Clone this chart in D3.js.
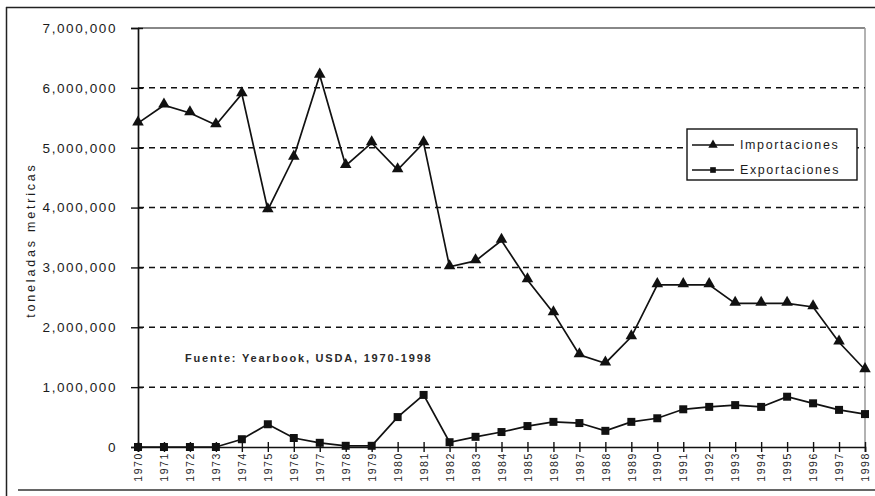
<!DOCTYPE html>
<html>
<head>
<meta charset="utf-8">
<script src="https://cdn.jsdelivr.net/npm/d3@7/dist/d3.min.js"></script>
<style>
  html, body { margin: 0; padding: 0; background: #fff; }
  svg { display: block; font-family: "Liberation Sans", Arial, sans-serif; }
</style>
</head>
<body>
<svg id="chart" width="875" height="496"></svg>
<script>
// Años de la serie
const years = d3.range(1970, 1999);

// Importaciones (toneladas métricas)
const importaciones = [
  5410000, 5710000, 5580000, 5380000, 5900000, 3960000, 4840000, 6210000,
  4700000, 5080000, 4630000, 5080000, 3010000, 3110000, 3450000, 2790000,
  2240000, 1540000, 1400000, 1840000, 2710000, 2710000, 2710000, 2400000,
  2400000, 2400000, 2340000, 1750000, 1290000
];

// Exportaciones (toneladas métricas)
const exportaciones = [
  0, 0, 0, 0, 130000, 380000, 150000, 70000,
  20000, 20000, 500000, 870000, 80000, 170000, 250000, 350000,
  420000, 400000, 270000, 420000, 480000, 630000, 670000, 700000,
  670000, 840000, 730000, 620000, 550000
];

const yTicks = [0, 1000000, 2000000, 3000000, 4000000, 5000000, 6000000, 7000000];
const seriesNames = ["Importaciones", "Exportaciones"];
const sourceText = "Fuente: Yearbook, USDA, 1970-1998";
const yTitle = "toneladas metricas";

const svg = d3.select("#chart");
const plotL = 138, plotR = 865, plotT = 28, plotB = 447;
const ink = "#1c1c1c";

const x = d3.scaleLinear().domain([1970, 1998]).range([plotL, plotR]);
const y = d3.scaleLinear().domain([0, 7000000]).range([plotB, plotT]);

// Marco exterior
svg.append("line").attr("x1", 6).attr("x2", 875).attr("y1", 7.5).attr("y2", 7.5)
  .attr("stroke", "#222").attr("stroke-width", 1.5);
svg.append("line").attr("x1", 6.5).attr("x2", 6.5).attr("y1", 7).attr("y2", 496)
  .attr("stroke", "#222").attr("stroke-width", 1.5);
svg.append("line").attr("x1", 18).attr("x2", 875).attr("y1", 490).attr("y2", 490)
  .attr("stroke", "#666").attr("stroke-width", 2);

// Borde del área de trazado (arriba y derecha)
svg.append("line").attr("x1", plotL).attr("x2", plotR).attr("y1", plotT).attr("y2", plotT)
  .attr("stroke", "#888").attr("stroke-width", 2);
svg.append("line").attr("x1", plotR).attr("x2", plotR).attr("y1", plotT).attr("y2", plotB)
  .attr("stroke", "#999").attr("stroke-width", 1.5);

// Líneas de cuadrícula discontinuas
svg.append("g").selectAll("line")
  .data(yTicks.filter(d => d > 0 && d < 7000000))
  .join("line")
  .attr("x1", plotL).attr("x2", plotR)
  .attr("y1", d => y(d)).attr("y2", d => y(d))
  .attr("stroke", "#111").attr("stroke-width", 1.5)
  .attr("stroke-dasharray", "6,5");

// Eje Y
const yAxis = svg.append("g")
  .attr("transform", `translate(${plotL},0)`)
  .call(d3.axisLeft(y).tickValues(yTicks).tickSize(7).tickPadding(14)
    .tickFormat(d3.format(",")));
yAxis.select(".domain").attr("stroke", "#111").attr("stroke-width", 1.7);
yAxis.selectAll(".tick line").attr("stroke", "#111").attr("stroke-width", 1.4)
  .attr("x2", -7).attr("x1", 5);
yAxis.selectAll(".tick text").attr("font-size", 13.5).attr("fill", ink)
  .attr("letter-spacing", 1.6)
  .attr("font-family", "'Liberation Sans', Arial, sans-serif");

// Eje X
const xAxis = svg.append("g")
  .attr("transform", `translate(0,${plotB})`)
  .call(d3.axisBottom(x).tickValues(years).tickSize(5).tickFormat(d3.format("d")));
xAxis.select(".domain").attr("stroke", "#111").attr("stroke-width", 1.7);
xAxis.selectAll(".tick line").attr("stroke", "#111").attr("stroke-width", 1.4)
  .attr("y1", -5).attr("y2", 5);
xAxis.selectAll(".tick text")
  .attr("font-size", 10.5).attr("fill", ink)
  .attr("letter-spacing", 1.6)
  .attr("font-family", "'Liberation Sans', Arial, sans-serif")
  .attr("transform", "rotate(-90)")
  .attr("text-anchor", "end")
  .attr("dy", "0.35em")
  .attr("x", -5).attr("y", 0);

// Título del eje Y
svg.append("text")
  .attr("transform", `translate(35,240) rotate(-90)`)
  .attr("text-anchor", "middle")
  .attr("font-size", 12.5).attr("fill", ink)
  .attr("letter-spacing", 2.8)
  .text(yTitle);

// Series
const line = d3.line().x((d, i) => x(years[i])).y(d => y(d));

svg.append("path").datum(importaciones)
  .attr("d", line).attr("fill", "none").attr("stroke", "#111").attr("stroke-width", 1.7);
svg.append("path").datum(exportaciones)
  .attr("d", line).attr("fill", "none").attr("stroke", "#111").attr("stroke-width", 1.7);

const tri = d3.symbol().type(d3.symbolTriangle).size(58);
const sq = d3.symbol().type(d3.symbolSquare).size(64);

svg.append("g").selectAll("path")
  .data(importaciones)
  .join("path")
  .attr("transform", (d, i) => `translate(${x(years[i])},${y(d) - 1})`)
  .attr("d", tri).attr("fill", "#111");

svg.append("g").selectAll("path")
  .data(exportaciones)
  .join("path")
  .attr("transform", (d, i) => `translate(${x(years[i])},${y(d)})`)
  .attr("d", sq).attr("fill", "#111");

// Fuente
svg.append("text")
  .attr("x", 185).attr("y", 362)
  .attr("font-size", 11).attr("font-weight", "bold").attr("fill", "#2a2a2a")
  .attr("letter-spacing", 1.8)
  .text(sourceText);

// Leyenda
const lg = svg.append("g");
lg.append("rect").attr("x", 687).attr("y", 129).attr("width", 170).attr("height", 51)
  .attr("fill", "#fff").attr("stroke", "#111").attr("stroke-width", 1.4);
const legendRows = [
  { name: seriesNames[0], sym: d3.symbol().type(d3.symbolTriangle).size(38), dy: 145 },
  { name: seriesNames[1], sym: d3.symbol().type(d3.symbolSquare).size(32), dy: 170 }
];
legendRows.forEach(r => {
  lg.append("line").attr("x1", 692).attr("x2", 734).attr("y1", r.dy).attr("y2", r.dy)
    .attr("stroke", "#111").attr("stroke-width", 1.6);
  lg.append("path").attr("transform", `translate(713,${r.dy})`)
    .attr("d", r.sym).attr("fill", "#111");
  lg.append("text").attr("x", 740).attr("y", r.dy).attr("dy", "0.35em")
    .attr("font-size", 12.5).attr("fill", ink).attr("letter-spacing", 1.6)
    .text(r.name);
});
</script>
</body>
</html>
